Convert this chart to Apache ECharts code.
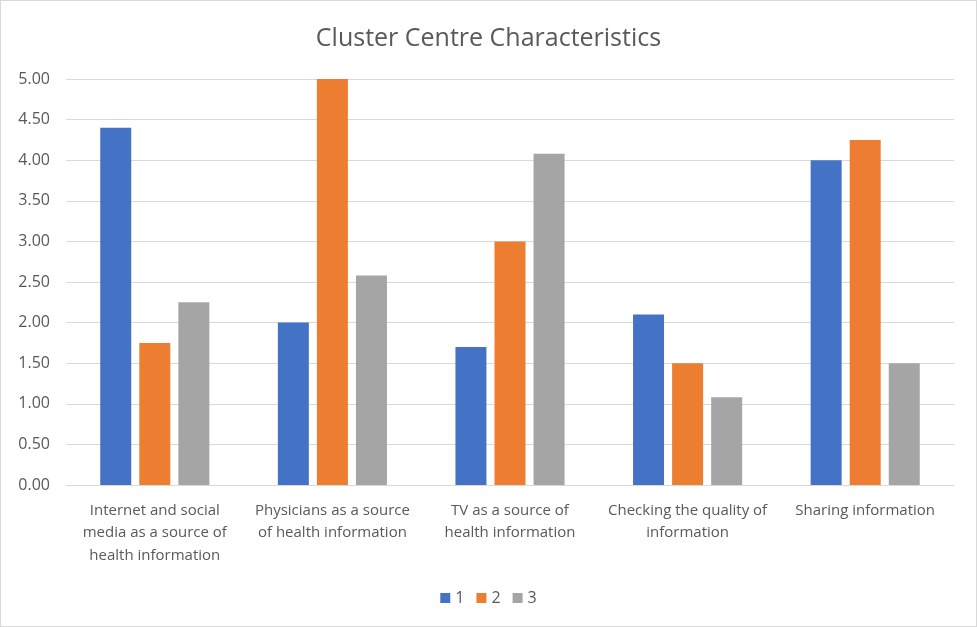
<!DOCTYPE html>
<html>
<head>
<meta charset="utf-8">
<script src="https://cdn.jsdelivr.net/npm/echarts@6/dist/echarts.min.js"></script>
<style>
html,body{margin:0;padding:0;background:#fff;}
#chart{width:977px;height:627px;box-sizing:border-box;border:1px solid #d9d9d9;}
</style>
</head>
<body>
<div id="chart"></div>
<script>
const categories = [
  "Internet and social\nmedia as a source of\nhealth information",
  "Physicians as a source\nof health information",
  "TV as a source of\nhealth information",
  "Checking the quality of\ninformation",
  "Sharing information"
];
const seriesNames = ["1", "2", "3"];
const series1 = [4.40, 2.00, 1.70, 2.10, 4.00];
const series2 = [1.75, 5.00, 3.00, 1.50, 4.25];
const series3 = [2.25, 2.58, 4.08, 1.08, 1.50];
const colors = ["#4472c4", "#ed7d31", "#a5a5a5"];

const chart = echarts.init(document.getElementById('chart'), null, {renderer: 'canvas'});
const font = "'Open Sans', 'Noto Sans', sans-serif";
chart.setOption({
  animation: false,
  title: {
    text: "Cluster Centre Characteristics",
    left: 'center',
    top: 20,
    textStyle: {fontFamily: font, fontSize: 25, fontWeight: 'normal', color: '#595959'}
  },
  legend: {
    bottom: 15,
    left: 'center',
    itemWidth: 10,
    itemHeight: 10,
    itemGap: 12,
    icon: 'rect',
    textStyle: {fontFamily: font, fontSize: 16, color: '#595959'},
    data: seriesNames
  },
  grid: {left: 65, right: 22, top: 78, bottom: 141, containLabel: false},
  xAxis: {
    type: 'category',
    data: categories,
    axisLine: {lineStyle: {color: '#d9d9d9'}},
    axisTick: {show: false},
    axisLabel: {
      interval: 0,
      fontFamily: font,
      fontSize: 15,
      color: '#595959',
      lineHeight: 22.5,
      margin: 14
    }
  },
  yAxis: {
    type: 'value',
    min: 0,
    max: 5,
    interval: 0.5,
    axisLine: {show: false},
    axisTick: {show: false},
    splitLine: {lineStyle: {color: '#d9d9d9', width: 1}},
    axisLabel: {
      fontFamily: font,
      fontSize: 16,
      color: '#595959',
      margin: 16,
      formatter: v => v.toFixed(2)
    }
  },
  series: [
    {name: seriesNames[0], type: 'bar', data: series1, barWidth: 31, barGap: '26%', itemStyle: {color: colors[0]}},
    {name: seriesNames[1], type: 'bar', data: series2, barWidth: 31, barGap: '26%', itemStyle: {color: colors[1]}},
    {name: seriesNames[2], type: 'bar', data: series3, barWidth: 31, barGap: '26%', itemStyle: {color: colors[2]}}
  ]
});
</script>
</body>
</html>
